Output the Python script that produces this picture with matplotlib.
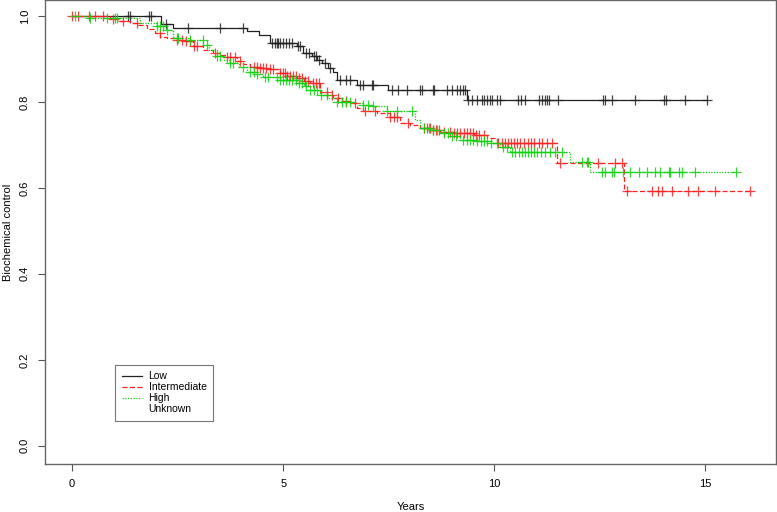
import numpy as np
import matplotlib
matplotlib.use("Agg")
import matplotlib.pyplot as plt

plt.rcParams['font.family'] = ['Liberation Sans', 'DejaVu Sans']

# Kaplan-Meier step curves: (drop time in years, survival after it)
low_t = [0, 2.1, 2.4, 4.14, 4.43, 4.7, 5.32, 5.48, 5.68, 5.8, 5.92, 6.07, 6.19, 6.28, 6.75, 7.49, 9.35]
low_s = [1.0, 0.981, 0.973, 0.964, 0.955, 0.938, 0.929, 0.914, 0.906, 0.898, 0.89, 0.878, 0.87, 0.851, 0.84, 0.828, 0.805]
low_end = 15.05
low_cens = [1.33, 1.38, 1.82, 1.86, 2.23, 2.75, 3.5, 4.04, 4.74, 4.8, 4.85, 4.87, 4.92, 5.0, 5.06,
            5.14, 5.2, 5.35, 5.4, 5.55, 5.62, 5.72, 5.78, 5.86, 6.0, 6.1, 6.35, 6.5, 6.58, 6.82,
            6.9, 7.1, 7.13, 7.57, 7.72, 7.93, 8.25, 8.29, 8.55, 8.58, 8.88, 9.0, 9.12, 9.19, 9.27,
            9.31, 9.39, 9.47, 9.59, 9.71, 9.75, 9.83, 9.89, 9.95, 10.06, 10.13, 10.57, 10.64,
            10.74, 11.07, 11.12, 11.2, 11.25, 11.3, 11.5, 12.57, 12.62, 12.79, 13.34, 14.02,
            14.06, 14.53, 15.04]

int_t = [0, 0.9, 1.14, 1.37, 1.56, 1.77, 1.97, 2.09, 2.24, 2.44, 2.68, 2.87, 3.1, 3.34, 3.5,
         3.67, 3.9, 4.05, 4.22, 4.4, 4.61, 4.93, 5.1, 5.32, 5.5, 5.64, 5.88, 6.05, 6.19, 6.4,
         6.59, 6.75, 6.9, 7.22, 7.54, 7.77, 8.0, 8.25, 8.48, 8.72, 9.04, 9.51, 9.83, 10.06,
         11.49, 13.07]
int_s = [1.0, 0.993, 0.988, 0.983, 0.979, 0.97, 0.96, 0.952, 0.948, 0.944, 0.941, 0.929, 0.921,
         0.913, 0.909, 0.905, 0.894, 0.888, 0.882, 0.879, 0.876, 0.867, 0.861, 0.855, 0.849,
         0.843, 0.824, 0.816, 0.808, 0.803, 0.797, 0.786, 0.778, 0.774, 0.766, 0.75, 0.746,
         0.739, 0.735, 0.731, 0.727, 0.723, 0.716, 0.705, 0.657, 0.593]
int_end = 16.07
int_cens = [0.0, 0.15, 0.39, 0.55, 0.74, 0.98, 1.2, 1.53, 2.08, 2.48, 2.6, 2.7, 2.8, 2.88, 2.95,
            3.39, 3.67, 3.75, 3.85, 3.98, 4.3, 4.38, 4.45, 4.52, 4.6, 4.69, 4.77, 4.93, 5.0,
            5.05, 5.1, 5.17, 5.24, 5.3, 5.38, 5.45, 5.52, 5.6, 5.7, 5.78, 5.85, 6.04, 6.15,
            6.3, 6.5, 6.7, 6.94, 7.18, 7.54, 7.62, 7.7, 7.96, 8.33, 8.4, 8.47, 8.55, 8.62,
            8.68, 8.8, 8.96, 9.05, 9.12, 9.2, 9.28, 9.35, 9.42, 9.5, 9.58, 9.65, 9.75, 10.1,
            10.18, 10.25, 10.33, 10.4, 10.48, 10.55, 10.62, 10.7, 10.8, 10.88, 10.95, 11.05,
            11.12, 11.25, 11.37, 11.56, 12.45, 12.87, 13.02, 13.14, 13.74, 13.87, 13.97,
            14.21, 14.58, 14.82, 15.24, 16.07]

high_t = [0, 0.4, 1.6, 2.0, 2.24, 2.4, 2.8, 3.11, 3.25, 3.43, 3.6, 3.74, 3.95, 4.14, 4.35, 4.53,
          4.93, 5.32, 5.5, 5.64, 5.88, 6.05, 6.27, 6.75, 6.9, 7.14, 7.46, 8.13, 8.25, 8.48,
          8.72, 8.95, 9.19, 9.51, 9.91, 10.14, 10.38, 11.8, 12.27]
high_s = [1.0, 0.995, 0.983, 0.976, 0.967, 0.948, 0.944, 0.933, 0.92, 0.906, 0.898, 0.89, 0.88,
          0.87, 0.864, 0.859, 0.851, 0.843, 0.836, 0.828, 0.816, 0.808, 0.8, 0.797, 0.793,
          0.791, 0.778, 0.758, 0.739, 0.735, 0.727, 0.72, 0.712, 0.708, 0.704, 0.696, 0.684,
          0.661, 0.638]
high_end = 15.73
high_cens = [0.07, 0.43, 0.82, 1.02, 1.06, 2.0, 2.08, 2.16, 2.24, 2.48, 2.52, 2.8, 3.1, 3.2,
             3.43, 3.5, 3.74, 3.82, 4.05, 4.22, 4.3, 4.38, 4.57, 4.65, 4.85, 4.93, 5.0, 5.07,
             5.15, 5.22, 5.3, 5.38, 5.45, 5.55, 5.64, 5.72, 5.8, 5.9, 6.04, 6.27, 6.4, 6.5,
             6.59, 6.9, 7.0, 7.14, 7.46, 7.69, 8.05, 8.33, 8.45, 8.55, 8.64, 8.8, 8.9, 9.0,
             9.1, 9.27, 9.35, 9.43, 9.5, 9.59, 9.68, 9.75, 9.83, 9.92, 10.06, 10.2, 10.3,
             10.42, 10.5, 10.58, 10.65, 10.72, 10.8, 10.88, 10.95, 11.02, 11.1, 11.2, 11.33,
             11.45, 11.6, 12.08, 12.2, 12.23, 12.55, 12.63, 12.79, 12.83, 13.06, 13.22,
             13.42, 13.62, 13.82, 13.93, 14.13, 14.17, 14.37, 14.45, 14.76, 15.73]

groups = ["Low", "Intermediate", "High", "Unknown"]
x_ticks = [0, 5, 10, 15]
y_ticks = [0.0, 0.2, 0.4, 0.6, 0.8, 1.0]


def surv_at(t, s, when):
    idx = np.searchsorted(np.asarray(t), np.asarray(when), side='right') - 1
    return np.asarray(s)[idx]


fig = plt.figure(figsize=(7.77, 5.12), dpi=100)
ax = fig.add_axes([0.058, 0.094, 0.941, 0.906])

curves = [
    (low_t, low_s, low_end, low_cens, '#222222', '-'),
    (int_t, int_s, int_end, int_cens, '#ff2020', (0, (4, 2))),
    (high_t, high_s, high_end, high_cens, '#10d010', (0, (1, 1.2))),
]
handles = []
for t, s, end, cens, col, ls in curves:
    tt = list(t) + [end]
    ss = list(s) + [s[-1]]
    h, = ax.step(tt, ss, where='post', color=col, linestyle=ls, linewidth=0.9)
    ax.plot(cens, surv_at(t, s, cens), linestyle='none', marker='+', markersize=7,
            markeredgewidth=0.9, color=col, alpha=0.85)
    handles.append(h)
# "Unknown" has no curve drawn, only a blank legend entry
h_unk, = ax.plot([], [], color='none')
handles.append(h_unk)

ax.set_xlim(-0.64, 16.68)
ax.set_ylim(-0.042, 1.037)
ax.set_xticks(x_ticks)
ax.set_xticklabels([str(v) for v in x_ticks])
ax.set_yticks(y_ticks)
ax.set_yticklabels([f"{v:.1f}" for v in y_ticks], rotation=90, va='center')
ax.tick_params(axis='both', direction='out', length=5, width=0.8, color='#555555',
               labelsize=8, pad=6)
for sp in ax.spines.values():
    sp.set_color('#666666')
    sp.set_linewidth(1.0)

ax.set_xlabel("Years", fontsize=8, labelpad=9)
ax.set_ylabel("Biochemical control", fontsize=8, labelpad=5)

leg = ax.legend(handles, groups, loc='lower left', bbox_to_anchor=(0.096, 0.093),
                fontsize=7.5, frameon=True, fancybox=False, handlelength=2.0,
                borderpad=0.6, labelspacing=0.1, handletextpad=0.6, borderaxespad=0)
leg.get_frame().set_edgecolor('#555555')
leg.get_frame().set_linewidth(0.8)

fig.savefig("out.png", dpi=100)
